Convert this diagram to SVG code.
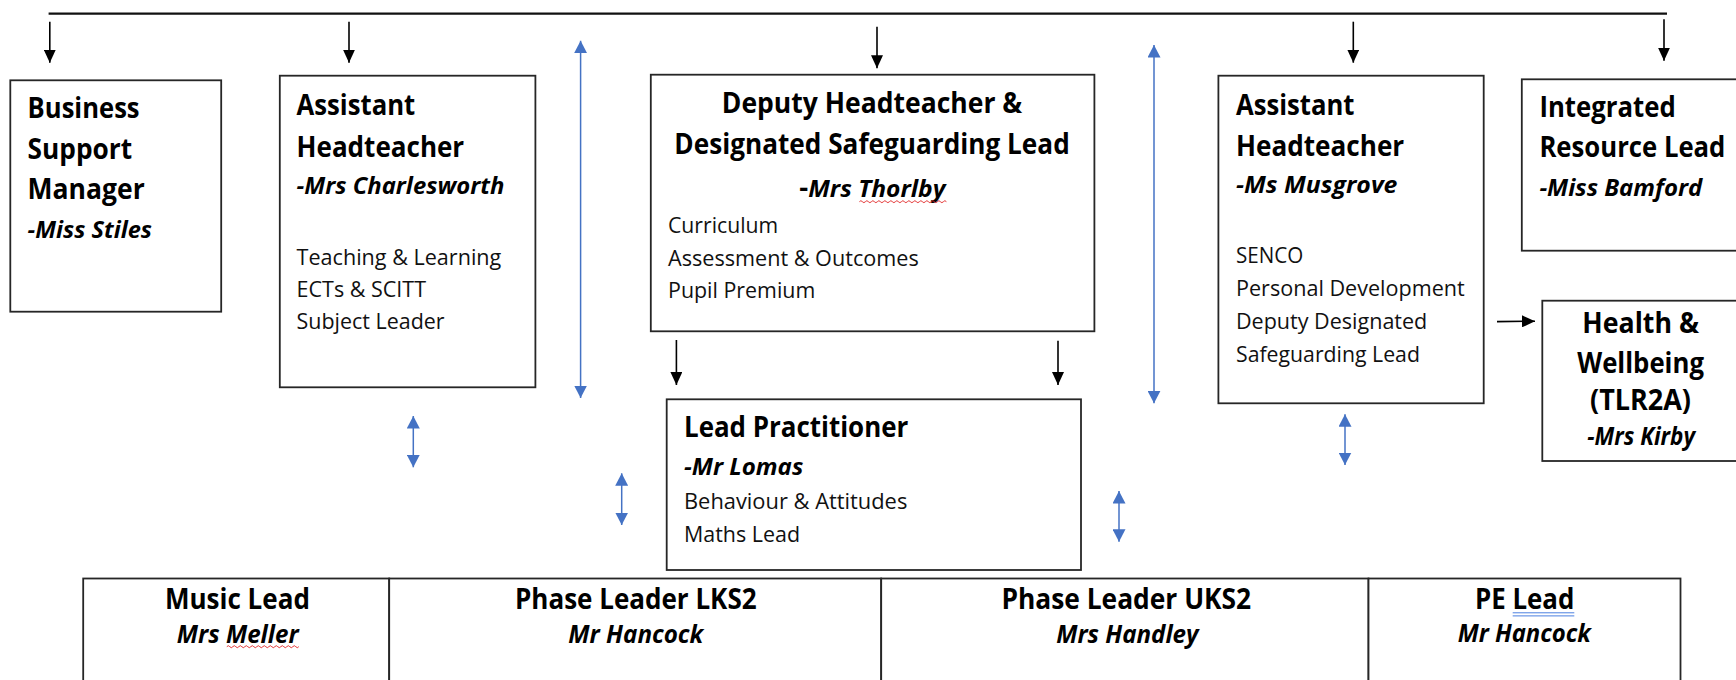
<svg xmlns="http://www.w3.org/2000/svg" width="1736" height="680" viewBox="0 0 1736 680">
<defs>
<style>
.box{fill:#fff;stroke:#262626;stroke-width:1.8}
.t{font-family:'Open Sans','Noto Sans','Liberation Sans',sans-serif;fill:#000}
.b{font-weight:700;font-size:28px}
.n{font-weight:700;font-style:italic;font-size:24px}
.i{font-weight:700;font-style:italic;font-size:25px}
.r{font-weight:400;font-size:22.5px;fill:#111}
.c{text-anchor:middle}
.k{stroke:#000;stroke-width:1.6;fill:none;marker-end:url(#ah)}
.bl{stroke:#4472C4;stroke-width:1.5;fill:none;marker-start:url(#bh);marker-end:url(#bh)}
</style>
<marker id="ah" markerUnits="userSpaceOnUse" viewBox="0 0 13 12" markerWidth="13" markerHeight="12" refX="13" refY="6" orient="auto"><path d="M0,0 L13,6 L0,12 z" fill="#000"/></marker>
<marker id="bh" markerUnits="userSpaceOnUse" viewBox="0 0 12.5 13" markerWidth="12.5" markerHeight="13" refX="12.5" refY="6.5" orient="auto-start-reverse"><path d="M0,0 L12.5,6.5 L0,13 z" fill="#4472C4"/></marker>
</defs>
<rect width="1736" height="680" fill="#fff"/>

<g id="connectors">
<line x1="48.6" y1="13.6" x2="1667" y2="13.6" stroke="#111" stroke-width="2.4"/>
<line class="k" x1="49.8" y1="21.7" x2="49.8" y2="62.7"/>
<line class="k" x1="349" y1="21.7" x2="349" y2="62.7"/>
<line class="k" x1="877" y1="26.7" x2="877" y2="68.3"/>
<line class="k" x1="1353.3" y1="21.7" x2="1353.3" y2="62.7"/>
<line class="k" x1="1664" y1="19.3" x2="1664" y2="60.7"/>
<line class="k" x1="676.4" y1="340" x2="676.4" y2="385"/>
<line class="k" x1="1058" y1="340.7" x2="1058" y2="385"/>
<line class="k" x1="1497" y1="321.6" x2="1535" y2="321.2"/>
<line class="bl" x1="580.6" y1="40.7" x2="580.6" y2="398"/>
<line class="bl" x1="1154" y1="45" x2="1154" y2="403.3"/>
<line class="bl" x1="413.3" y1="416" x2="413.3" y2="467.3"/>
<line class="bl" x1="621.7" y1="473.3" x2="621.7" y2="525"/>
<line class="bl" x1="1119" y1="491" x2="1119" y2="541.7"/>
<line class="bl" x1="1345" y1="414.3" x2="1345" y2="465"/>
</g>

<g id="business-support-manager">
<rect class="box" x="10.3" y="80.3" width="210.9" height="231.4"/>
<text class="t b" x="27.6" y="118.3" textLength="112" lengthAdjust="spacingAndGlyphs">Business</text>
<text class="t b" x="27.6" y="159.3" textLength="104.5" lengthAdjust="spacingAndGlyphs">Support</text>
<text class="t b" x="27.6" y="199.3" textLength="117.1" lengthAdjust="spacingAndGlyphs">Manager</text>
<text class="t n" x="27.6" y="238.3" textLength="124.4" lengthAdjust="spacingAndGlyphs">-Miss Stiles</text>
</g>

<g id="assistant-head-charlesworth">
<rect class="box" x="279.8" y="75.7" width="255.6" height="311.6"/>
<text class="t b" x="296.6" y="115" textLength="118.6" lengthAdjust="spacingAndGlyphs">Assistant</text>
<text class="t b" x="296.6" y="156.7" textLength="167.6" lengthAdjust="spacingAndGlyphs">Headteacher</text>
<text class="t n" x="296.6" y="194" textLength="207.8" lengthAdjust="spacingAndGlyphs">-Mrs Charlesworth</text>
<text class="t r" x="296.6" y="265" textLength="204.7" lengthAdjust="spacingAndGlyphs">Teaching &amp; Learning</text>
<text class="t r" x="296.6" y="296.7" textLength="129.4" lengthAdjust="spacingAndGlyphs">ECTs &amp; SCITT</text>
<text class="t r" x="296.6" y="328.5" textLength="148" lengthAdjust="spacingAndGlyphs">Subject Leader</text>
</g>

<g id="deputy-head">
<rect class="box" x="650.8" y="74.7" width="443.6" height="256.6"/>
<text class="t b c" x="872" y="113.3" textLength="300.4" lengthAdjust="spacingAndGlyphs">Deputy Headteacher &amp;</text>
<text class="t b c" x="872" y="154" textLength="395.4" lengthAdjust="spacingAndGlyphs">Designated Safeguarding Lead</text>
<text class="t n" x="799.3" y="197.3" textLength="146.2" lengthAdjust="spacingAndGlyphs"><tspan style="font-style:normal;font-size:27px">-</tspan>Mrs Thorlby</text>
<path d="M859.4,201.7 q1.5,-2 3,0 t3,0 t3,0 t3,0 t3,0 t3,0 t3,0 t3,0 t3,0 t3,0 t3,0 t3,0 t3,0 t3,0 t3,0 t3,0 t3,0 t3,0 t3,0 t3,0 t3,0 t3,0 t3,0 t3,0 t3,0 t3,0 t3,0 t3,0 t3,0" fill="none" stroke="#e02020" stroke-width="0.9"/>
<text class="t r" x="668" y="233.3" textLength="110.2" lengthAdjust="spacingAndGlyphs">Curriculum</text>
<text class="t r" x="668" y="266" textLength="250.7" lengthAdjust="spacingAndGlyphs">Assessment &amp; Outcomes</text>
<text class="t r" x="668" y="298.3" textLength="147.3" lengthAdjust="spacingAndGlyphs">Pupil Premium</text>
</g>

<g id="assistant-head-musgrove">
<rect class="box" x="1218.4" y="75.7" width="265.3" height="327.6"/>
<text class="t b" x="1236" y="115" textLength="118.5" lengthAdjust="spacingAndGlyphs">Assistant</text>
<text class="t b" x="1236" y="156" textLength="168.2" lengthAdjust="spacingAndGlyphs">Headteacher</text>
<text class="t n" x="1236" y="193.3" textLength="161.4" lengthAdjust="spacingAndGlyphs">-Ms Musgrove</text>
<text class="t r" x="1236" y="263.3" textLength="67.3" lengthAdjust="spacingAndGlyphs">SENCO</text>
<text class="t r" x="1236" y="296" textLength="228.7" lengthAdjust="spacingAndGlyphs">Personal Development</text>
<text class="t r" x="1236" y="329.3" textLength="191.3" lengthAdjust="spacingAndGlyphs">Deputy Designated</text>
<text class="t r" x="1236" y="361.7" textLength="183.9" lengthAdjust="spacingAndGlyphs">Safeguarding Lead</text>
</g>

<g id="integrated-resource-lead">
<rect class="box" x="1521.8" y="79.3" width="230" height="171.4"/>
<text class="t b" x="1539.4" y="116.7" textLength="136.4" lengthAdjust="spacingAndGlyphs">Integrated</text>
<text class="t b" x="1539.4" y="157.3" textLength="186" lengthAdjust="spacingAndGlyphs">Resource Lead</text>
<text class="t n" x="1539.4" y="196" textLength="162.9" lengthAdjust="spacingAndGlyphs">-Miss Bamford</text>
</g>

<g id="health-wellbeing">
<rect class="box" x="1542.3" y="300.7" width="210" height="160.3"/>
<text class="t b c" x="1640.6" y="333.3" textLength="116.7" lengthAdjust="spacingAndGlyphs">Health &amp;</text>
<text class="t b c" x="1640.6" y="373.3" textLength="126.7" lengthAdjust="spacingAndGlyphs">Wellbeing</text>
<text class="t b c" x="1640.5" y="409.5" textLength="101" lengthAdjust="spacingAndGlyphs">(TLR2A)</text>
<text class="t i c" x="1641.2" y="445" textLength="107.7" lengthAdjust="spacingAndGlyphs">-Mrs Kirby</text>
</g>

<g id="lead-practitioner">
<rect class="box" x="666.7" y="399.3" width="414.3" height="170.7"/>
<text class="t b" x="684" y="437.3" textLength="224.3" lengthAdjust="spacingAndGlyphs">Lead Practitioner</text>
<text class="t n" x="684" y="475" textLength="119.3" lengthAdjust="spacingAndGlyphs">-Mr Lomas</text>
<text class="t r" x="684" y="509.3" textLength="223.3" lengthAdjust="spacingAndGlyphs">Behaviour &amp; Attitudes</text>
<text class="t r" x="684" y="542.3" textLength="116" lengthAdjust="spacingAndGlyphs">Maths Lead</text>
</g>

<g id="music-lead">
<rect class="box" x="83.2" y="578.5" width="306" height="130"/>
<text class="t b c" x="237.4" y="609.3" textLength="145" lengthAdjust="spacingAndGlyphs">Music Lead</text>
<text class="t i c" x="237.7" y="643" textLength="121.7" lengthAdjust="spacingAndGlyphs">Mrs Meller</text>
<path d="M226.8,646.7 q1.5,-2 3,0 t3,0 t3,0 t3,0 t3,0 t3,0 t3,0 t3,0 t3,0 t3,0 t3,0 t3,0 t3,0 t3,0 t3,0 t3,0 t3,0 t3,0 t3,0 t3,0 t3,0 t3,0 t3,0 t3,0" fill="none" stroke="#e02020" stroke-width="0.9"/>
</g>

<g id="phase-leader-lks2">
<rect class="box" x="389.2" y="578.5" width="492" height="130"/>
<text class="t b c" x="635.8" y="609.3" textLength="241.6" lengthAdjust="spacingAndGlyphs">Phase Leader LKS2</text>
<text class="t i c" x="635.8" y="643" textLength="134.9" lengthAdjust="spacingAndGlyphs">Mr Hancock</text>
</g>

<g id="phase-leader-uks2">
<rect class="box" x="881.2" y="578.5" width="487.3" height="130"/>
<text class="t b c" x="1126.3" y="609.3" textLength="249.7" lengthAdjust="spacingAndGlyphs">Phase Leader UKS2</text>
<text class="t i c" x="1127.4" y="643" textLength="142.4" lengthAdjust="spacingAndGlyphs">Mrs Handley</text>
</g>

<g id="pe-lead">
<rect class="box" x="1368.5" y="578.5" width="312" height="130"/>
<text class="t b c" x="1524.7" y="609.3" textLength="99.3" lengthAdjust="spacingAndGlyphs">PE Lead</text>
<line x1="1512.7" y1="612.8" x2="1574.3" y2="612.8" stroke="#4a7fe0" stroke-width="1"/>
<line x1="1512.7" y1="615.9" x2="1574.3" y2="615.9" stroke="#4a7fe0" stroke-width="1"/>
<text class="t i c" x="1524.3" y="642.3" textLength="133.3" lengthAdjust="spacingAndGlyphs">Mr Hancock</text>
</g>
</svg>
